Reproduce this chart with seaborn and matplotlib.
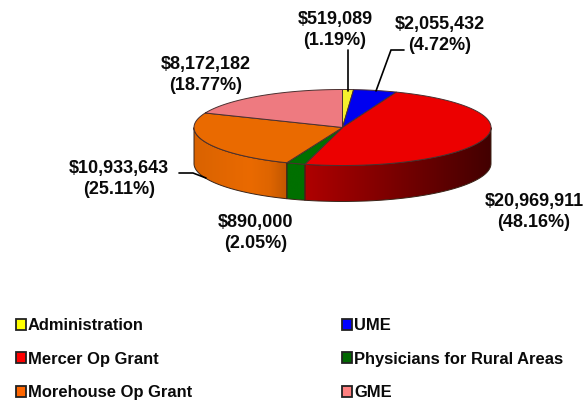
import numpy as np
import matplotlib
matplotlib.use("Agg")
import matplotlib.pyplot as plt
from matplotlib.colors import to_rgb
from matplotlib.patches import Patch, Polygon
import seaborn as sns

categories = ["Administration", "UME", "Mercer Op Grant",
              "Physicians for Rural Areas", "Morehouse Op Grant", "GME"]
amounts = [519089, 2055432, 20969911, 890000, 10933643, 8172182]
percents = ["1.19%", "4.72%", "48.16%", "2.05%", "25.11%", "18.77%"]

top_colors = ["#F5F02E", "#0000F0", "#EC0000", "#007000", "#EA6A00", "#EE7A80"]
legend_colors = ["#FFFF00", "#0000FF", "#FF0000", "#006600", "#FF6600", "#FF8080"]
label_pos = [(335, 29), (440, 34), (534, 211), (256, 232), (119, 178), (206, 74)]

sns.set_theme(style="white")
plt.rcParams["font.family"] = ["Liberation Sans", "DejaVu Sans"]

# pie geometry, in pixels
cx, cy, rx, ry, depth = 342.5, 127.5, 148.5, 38, 36


def rim(t):
    return cx + rx * np.sin(t), cy - ry * np.cos(t)


def side_shade(name, x):
    # lighting on the rim changes along x
    if name == "Mercer Op Grant":
        return np.interp(x, [305, 400, 491], [0.74, 0.5, 0.28])
    if name == "Morehouse Op Grant":
        return np.interp(x, [194, 250, 270, 287], [0.93, 1.0, 0.95, 0.82])
    return np.ones_like(x)


fig = plt.figure(figsize=(5.85, 4), dpi=100)
ax = fig.add_axes([0, 0, 1, 1])

edges = np.radians(np.cumsum([0] + amounts) / sum(amounts) * 360)

# rim first, only the front half shows
for i, name in enumerate(categories):
    a = max(edges[i], np.pi / 2)
    b = min(edges[i + 1], 3 * np.pi / 2)
    if b <= a:
        continue
    ts = np.linspace(a, b, 100)
    xs, ys = rim(ts)
    outline = list(zip(xs, ys)) + list(zip(xs[::-1], ys[::-1] + depth))
    shape = Polygon(outline, fc="none", ec="#3a2418", lw=0.7, zorder=3)
    ax.add_patch(shape)

    x_lo, x_hi = xs.min(), xs.max()
    grid = np.linspace(x_lo, x_hi, 200)
    base = np.array(to_rgb(top_colors[i]))
    strip = side_shade(name, grid)[None, :, None] * base[None, None, :]
    im = ax.imshow(strip, extent=(x_lo, x_hi, ys.max() + depth, ys.min()),
                   aspect="auto", zorder=2, interpolation="bilinear")
    im.set_clip_path(shape)

# top face
for i in range(len(categories)):
    ts = np.linspace(edges[i], edges[i + 1], 120)
    xs, ys = rim(ts)
    pts = [(cx, cy)] + list(zip(xs, ys))
    ax.add_patch(Polygon(pts, fc=top_colors[i], ec="#4a3030", lw=0.7, zorder=4))

ax.set_xlim(0, 585)
ax.set_ylim(400, 0)
ax.axis("off")

# leader lines
line_kw = dict(color="black", lw=1.2, zorder=5, solid_joinstyle="miter")
ax.plot([347.7, 347.7], [50, 91], **line_kw)
ax.plot([404, 391, 376], [50, 50, 91], **line_kw)
ax.plot([179, 193, 206], [173, 173, 178], **line_kw)

for i, (x, y) in enumerate(label_pos):
    ax.text(x, y + 1, f"${amounts[i]:,}\n({percents[i]})", ha="center", va="center",
            fontsize=13, fontweight="bold", color="#0a0a0a", linespacing=1.3, zorder=6)

handles = [Patch(fc=legend_colors[i], ec="#222222", lw=1.3, label=categories[i])
           for i in [0, 2, 4, 1, 3, 5]]
ax.legend(handles=handles, ncols=2, loc="upper left", bbox_to_anchor=(15.5 / 585, 1 - 318 / 400),
          frameon=False, labelcolor="#0a0a0a",
          prop={"weight": "bold", "size": 11.9, "family": "Liberation Sans"},
          handlelength=0.62, handleheight=0.62, handletextpad=0.14,
          labelspacing=1.12, columnspacing=9.05, borderpad=0, borderaxespad=0)

plt.savefig("out.png", dpi=100)
plt.close()
